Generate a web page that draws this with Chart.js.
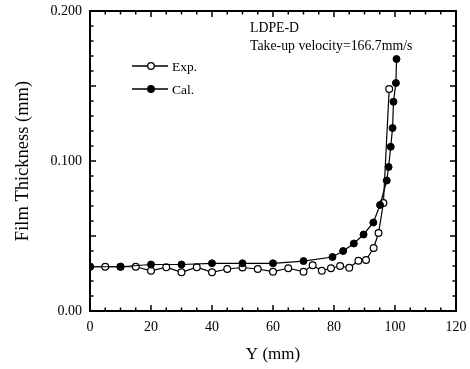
<!DOCTYPE html>
<html>
<head>
<meta charset="utf-8">
<script src="https://cdn.jsdelivr.net/npm/chart.js@4.4.1/dist/chart.umd.min.js"></script>
<style>
  html, body { margin: 0; padding: 0; background: #fff; }
  #wrap { width: 470px; height: 369px; }
</style>
</head>
<body>
<div id="wrap"><canvas id="thicknessChart" width="470" height="369"></canvas></div>
<script>
// Exp. (open circles)
const expX = [0, 5, 10, 15, 20, 25, 30, 35, 40, 45, 50, 55, 60, 65, 70, 73, 76, 79, 82, 85, 88, 90.5, 93, 94.6, 96.2, 98.1];
const expY = [0.0295, 0.0295, 0.0295, 0.0295, 0.0268, 0.0292, 0.0258, 0.0292, 0.0258, 0.028, 0.029, 0.028, 0.0262, 0.0285, 0.0262, 0.0305, 0.0268, 0.0285, 0.030, 0.0288, 0.0335, 0.034, 0.042, 0.052, 0.072, 0.148];

// Cal. (filled circles)
const calX = [0, 10, 20, 30, 40, 50, 60, 70, 79.5, 83, 86.5, 89.7, 92.9, 95.1, 97.3, 97.9, 98.6, 99.2, 99.5, 100.3, 100.5];
const calY = [0.0295, 0.0295, 0.031, 0.031, 0.0318, 0.0318, 0.0318, 0.0333, 0.036, 0.040, 0.045, 0.051, 0.059, 0.0707, 0.087, 0.096, 0.1095, 0.122, 0.1395, 0.152, 0.168];

const seriesNames = ["Exp.", "Cal."];
const xTickStep = 20;
const yTickStep = 0.1;
const noteLines = ["LDPE-D", "Take-up velocity=166.7mm/s"];

const SERIF = "'Liberation Serif', 'DejaVu Serif', serif";

function pairUp(xs, ys) {
    return xs.map((x, i) => ({ x: x, y: ys[i] }));
}

// inward tick marks on all four sides + frame, like the printed figure
const frameTicks = {
    id: 'frameTicks',
    afterDraw(chart) {
        const { ctx, chartArea: a, scales: { x, y } } = chart;
        ctx.save();
        ctx.strokeStyle = '#000';
        ctx.lineWidth = 1.5;
        for (let v = 0; v <= 120; v += 5) {
            const px = x.getPixelForValue(v);
            const len = (v % 20 === 0) ? 6 : 3.5;
            ctx.beginPath();
            ctx.moveTo(px, a.bottom); ctx.lineTo(px, a.bottom - len);
            ctx.moveTo(px, a.top); ctx.lineTo(px, a.top + len);
            ctx.stroke();
        }
        for (let i = 0; i <= 20; i++) {
            const py = y.getPixelForValue(i * 0.01);
            const len = (i % 5 === 0) ? 6 : 3.5;
            ctx.beginPath();
            ctx.moveTo(a.left, py); ctx.lineTo(a.left + len, py);
            ctx.moveTo(a.right, py); ctx.lineTo(a.right - len, py);
            ctx.stroke();
        }
        ctx.lineWidth = 2;
        ctx.strokeRect(a.left, a.top, a.right - a.left, a.bottom - a.top);
        ctx.restore();
    }
};

// legend and the notes sit inside the frame
const insideText = {
    id: 'insideText',
    afterDraw(chart) {
        const ctx = chart.ctx;
        ctx.save();
        ctx.fillStyle = '#000';
        ctx.strokeStyle = '#000';
        ctx.font = '13.8px ' + SERIF;
        ctx.textBaseline = 'middle';
        ctx.textAlign = 'left';
        ctx.fillText(noteLines[0], 250, 28);
        ctx.fillText(noteLines[1], 250, 46);

        const rows = [{ y: 66, open: true }, { y: 89, open: false }];
        rows.forEach((r, i) => {
            ctx.lineWidth = 1.3;
            ctx.beginPath();
            ctx.moveTo(132, r.y); ctx.lineTo(168, r.y);
            ctx.stroke();
            ctx.beginPath();
            ctx.arc(151, r.y, 3.3, 0, Math.PI * 2);
            ctx.fillStyle = r.open ? '#fff' : '#000';
            ctx.fill();
            ctx.stroke();
            ctx.fillStyle = '#000';
            ctx.font = '13.5px ' + SERIF;
            ctx.fillText(seriesNames[i], 172, r.y + 1);
        });
        ctx.restore();
    }
};

new Chart(document.getElementById('thicknessChart'), {
    type: 'line',
    data: {
        datasets: [
            {
                label: seriesNames[0],
                data: pairUp(expX, expY),
                borderColor: '#000',
                borderWidth: 1.2,
                pointRadius: 3.4,
                pointBackgroundColor: '#fff',
                pointBorderColor: '#000',
                pointBorderWidth: 1.2,
                tension: 0,
                order: 1
            },
            {
                label: seriesNames[1],
                data: pairUp(calX, calY),
                borderColor: '#000',
                borderWidth: 1.2,
                pointRadius: 3.5,
                pointBackgroundColor: '#000',
                pointBorderColor: '#000',
                pointBorderWidth: 1,
                tension: 0,
                order: 0
            }
        ]
    },
    options: {
        responsive: false,
        animation: false,
        events: [],
        layout: { padding: { top: 11, right: 14, left: 0, bottom: 4 } },
        plugins: { legend: { display: false }, tooltip: { enabled: false } },
        scales: {
            x: {
                type: 'linear',
                min: 0, max: 120,
                grid: { display: false, drawTicks: false },
                border: { display: false },
                ticks: {
                    stepSize: xTickStep,
                    color: '#000',
                    padding: 8,
                    font: { family: SERIF, size: 14 },
                    maxRotation: 0
                },
                title: {
                    display: true,
                    text: 'Y (mm)',
                    color: '#000',
                    font: { family: SERIF, size: 17 },
                    padding: { top: 4, bottom: 0 }
                },
                afterFit(scale) {
                    scale.height = 54;
                    scale.paddingLeft = 0;
                    scale.paddingRight = 0;
                }
            },
            y: {
                min: 0, max: 0.2,
                grid: { display: false, drawTicks: false },
                border: { display: false },
                ticks: {
                    stepSize: yTickStep,
                    color: '#000',
                    padding: 8,
                    font: { family: SERIF, size: 14 },
                    callback: v => (v === 0 ? '0.00' : v.toFixed(3))
                },
                title: {
                    display: true,
                    text: 'Film Thickness (mm)',
                    color: '#000',
                    font: { family: SERIF, size: 18.5 },
                    padding: { top: 12, bottom: 0 }
                },
                afterFit(scale) {
                    scale.width = 90;
                    scale.paddingTop = 0;
                    scale.paddingBottom = 0;
                }
            }
        }
    },
    plugins: [frameTicks, insideText]
});
</script>
</body>
</html>
